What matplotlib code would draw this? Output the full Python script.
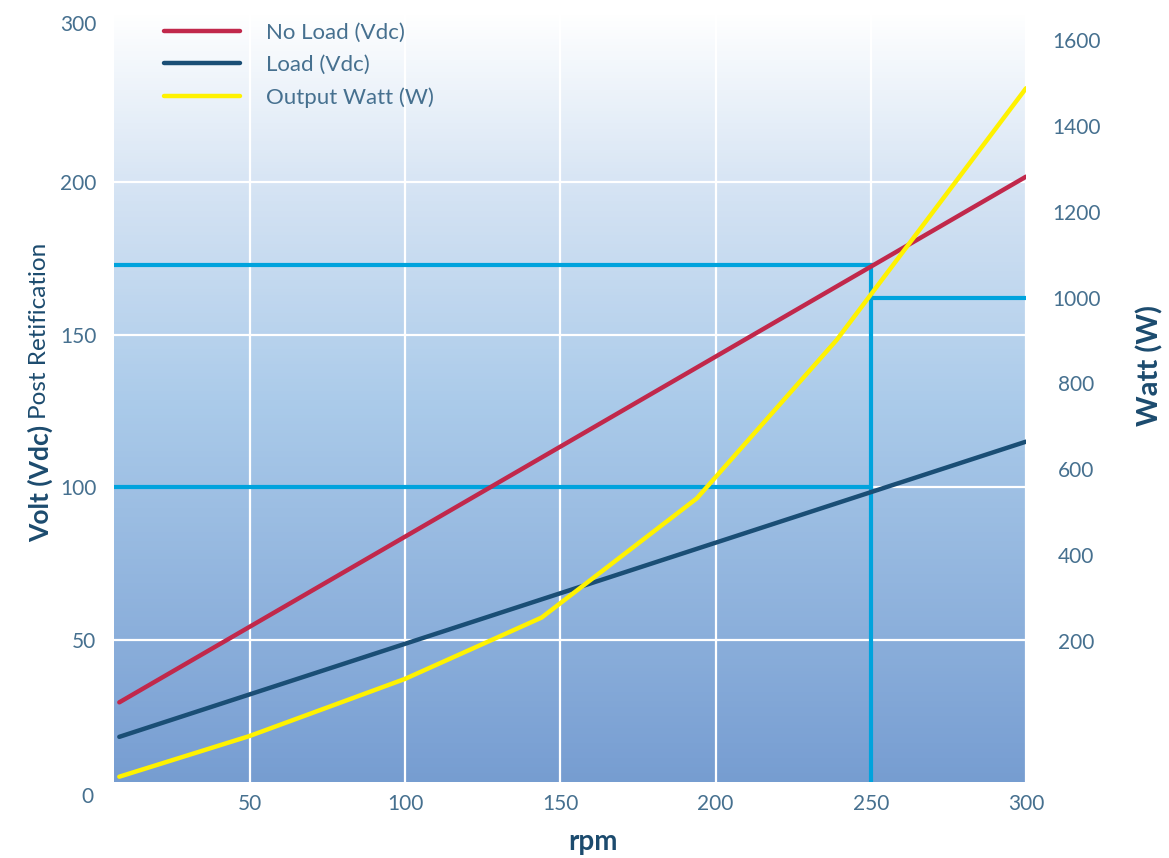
import numpy as np
import matplotlib
matplotlib.use("Agg")
import matplotlib.pyplot as plt
from matplotlib.colors import LinearSegmentedColormap

plt.rcParams["font.family"] = ["Lato", "DejaVu Sans"]

# data
rpm_line = [8, 300]
no_load_vdc = [29.6, 201.8]
load_vdc = [18.3, 115.0]

rpm_watt = [8, 50, 100, 144, 194, 239, 300]
output_watt = [-117, -22, 111, 254, 532, 901, 1488]

ref_rpm = 250
ref_volt_hi = 173
ref_volt_lo = 100
ref_watt = 1000

x_ticks = [50, 100, 150, 200, 250, 300]
v_ticks = [50, 100, 150, 200]
w_ticks = [200, 400, 600, 800, 1000, 1200, 1400, 1600]

tick_col = "#46708f"
label_col = "#1c4b6e"
red = "#c1284b"
navy = "#1a4e75"
yellow = "#fff200"
cyan = "#00a3dd"

fig = plt.figure(figsize=(11.69, 8.58), dpi=100)
ax = fig.add_axes([0.0978, 0.0889, 0.7799, 0.897])

# background gradient, white at the top
grad = LinearSegmentedColormap.from_list(
    "bg", [(0, "#ffffff"), (0.244, "#d3e2f3"), (0.504, "#abcbea"),
           (0.971, "#7aa0d3"), (1, "#769dd0")])
ax.imshow(np.linspace(0, 1, 256).reshape(-1, 1), cmap=grad, aspect="auto",
          extent=[6.4, 300, 3.6, 255.7], origin="upper", zorder=0)
ax.set_xlim(6.4, 300)
ax.set_ylim(3.6, 255.7)

for s in ax.spines.values():
    s.set_visible(False)

ax.set_xticks(x_ticks)
ax.set_yticks(v_ticks)
ax.set_axisbelow(True)
ax.grid(True, color="white", linewidth=1.6)
ax.tick_params(length=0, labelsize=15, labelcolor=tick_col)
ax.tick_params(axis="y", pad=13)
ax.tick_params(axis="x", pad=9)

# reference lines
lw_ref = 3
ax.plot([6.4, ref_rpm], [ref_volt_hi, ref_volt_hi], color=cyan, lw=lw_ref, zorder=2)
ax.plot([6.4, ref_rpm], [ref_volt_lo, ref_volt_lo], color=cyan, lw=lw_ref, zorder=2)
ax.plot([ref_rpm, ref_rpm], [3.6, ref_volt_hi], color=cyan, lw=lw_ref, zorder=2)

l1, = ax.plot(rpm_line, no_load_vdc, color=red, lw=3.2, zorder=3,
              solid_capstyle="round", label="No Load (Vdc)")
l2, = ax.plot(rpm_line, load_vdc, color=navy, lw=3.2, zorder=3,
              solid_capstyle="round", label="Load (Vdc)")

ax2 = ax.twinx()
ax2.set_ylim(-128.7, 1665.5)
for s in ax2.spines.values():
    s.set_visible(False)
ax2.plot([ref_rpm, 300], [ref_watt, ref_watt], color=cyan, lw=lw_ref, zorder=2)
l3, = ax2.plot(rpm_watt, output_watt, color=yellow, lw=3.2, zorder=3,
               solid_capstyle="round", label="Output Watt (W)")
ax2.set_yticks(w_ticks)
ax2.tick_params(length=0, labelsize=15, labelcolor=tick_col, pad=36)
for lab in ax2.get_yticklabels():
    lab.set_horizontalalignment("center")

# extra left labels sitting outside the scale, as in the original
fig.text(97 / 1169, 1 - 25 / 858, "300", ha="right", va="center",
         fontsize=15, color=tick_col)
fig.text(93 / 1169, 1 - 797 / 858, "0", ha="right", va="center",
         fontsize=15, color=tick_col)

leg = ax2.legend(handles=[l1, l2, l3], loc="upper left",
                 bbox_to_anchor=(0.033, 1.012), frameon=False, fontsize=16,
                 handlelength=3.4, handletextpad=1.15, labelspacing=0.55)
for t in leg.get_texts():
    t.set_color(tick_col)

fig.text(593 / 1169, 1 - 850 / 858, "rpm", ha="center", va="baseline",
         fontsize=20, fontweight="bold", color=label_col)
fig.text(1150 / 1169, 1 - 366 / 858, "Watt (W)", ha="center", va="center",
         rotation=90, fontsize=21, fontweight="bold", color=label_col)

# left label: bold part then regular part
t1 = fig.text(40 / 1169, 1 - 542 / 858, "Volt (Vdc)", ha="center", va="bottom",
              rotation=90, fontsize=19, fontweight="bold", color=label_col)
fig.canvas.draw()
bb = t1.get_window_extent()
fig.text(40 / 1169, (bb.y1 + 6) / fig.bbox.height, "Post Retification",
         ha="center", va="bottom", rotation=90, fontsize=17.5, color=label_col)

fig.savefig("out.png", dpi=100)
